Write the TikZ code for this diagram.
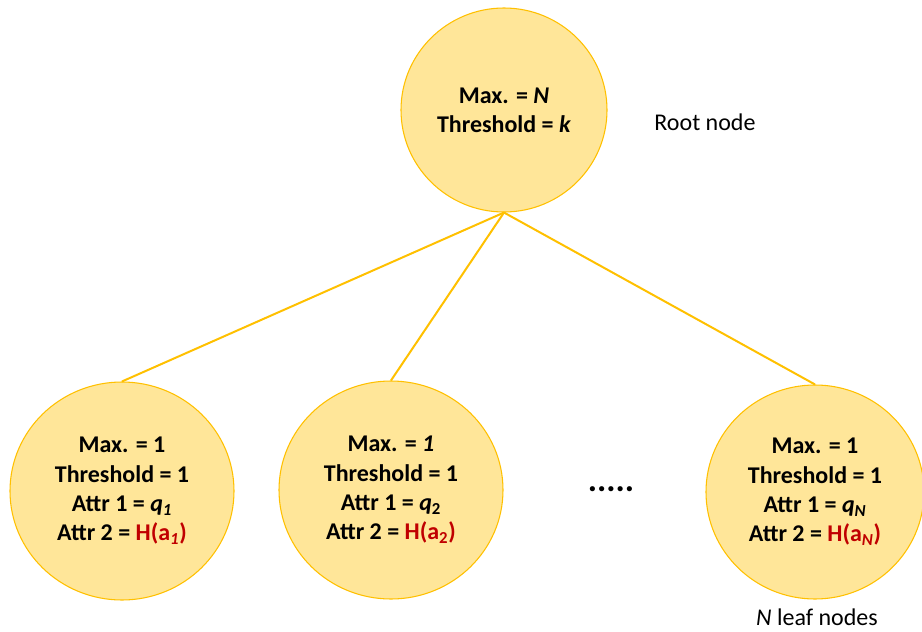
\documentclass[tikz,border=0pt]{standalone}
\usepackage{fontspec}
\setmainfont{Carlito}
\usepackage{xcolor}
\usetikzlibrary{shapes.geometric}

\definecolor{goldline}{RGB}{255,192,0}
\definecolor{goldfill}{RGB}{255,230,153}
\definecolor{darkred}{RGB}{192,0,0}

\tikzset{
  treenode/.style={ellipse, draw=goldline, fill=goldfill, line width=0.8pt,
    align=center, font=\fontsize{18}{22}\selectfont\bfseries, inner sep=0pt},
  treeedge/.style={draw=goldline, line width=1.5pt},
  plaintext/.style={font=\fontsize{18}{22}\selectfont, inner sep=0.75pt}
}

\begin{document}
\begin{tikzpicture}[x=0.75pt,y=0.75pt,yscale=-1,xscale=1]
%set diagram size to 922 x 632
\path[use as bounding box] (0,0) rectangle (922,632);

%Shape: Root
\node[treenode, minimum width=206*0.75pt, minimum height=204*0.75pt] (root) at (504,110)
  {Max. = \textit{N}\\Threshold = \textit{k}};

%Shape: Leaves
\node[treenode, minimum width=224*0.75pt, minimum height=218*0.75pt] (leafA) at (122,491)
  {Max. = 1\\Threshold = 1\\Attr 1 = \textit{q}\textsubscript{\textit{1}}\\
   Attr 2 = \textcolor{darkred}{H(a\textsubscript{\textit{1}})}};
\node[treenode, minimum width=224*0.75pt, minimum height=218*0.75pt] (leafB) at (391,490)
  {Max. = \textit{1}\\Threshold = 1\\Attr 1 = \textit{q}\textsubscript{2}\\
   Attr 2 = \textcolor{darkred}{H(a\textsubscript{2})}};
\node[treenode, minimum width=218*0.75pt, minimum height=214*0.75pt] (leafN) at (815,492)
  {Max. = 1\\Threshold = 1\\Attr 1 = \textit{q}\textsubscript{\textit{N}}\\
   Attr 2 = \textcolor{darkred}{H(a\textsubscript{\textit{N}})}};

%Straight Lines
\draw[treeedge] (root.south) -- (leafA.north);
\draw[treeedge] (root.south) -- (leafB.north);
\draw[treeedge] (root.south) -- (leafN.north);

% Text Node
\node[plaintext] (rootlabel) at (705,122) {Root node};
% Text Node
\node[plaintext, font=\fontsize{26}{30}\selectfont\bfseries] (dots) at (611,489) {.....};
% Text Node
\node[plaintext] (leaflabel) at (817,617) {\textit{N} leaf nodes};

\end{tikzpicture}
\end{document}
